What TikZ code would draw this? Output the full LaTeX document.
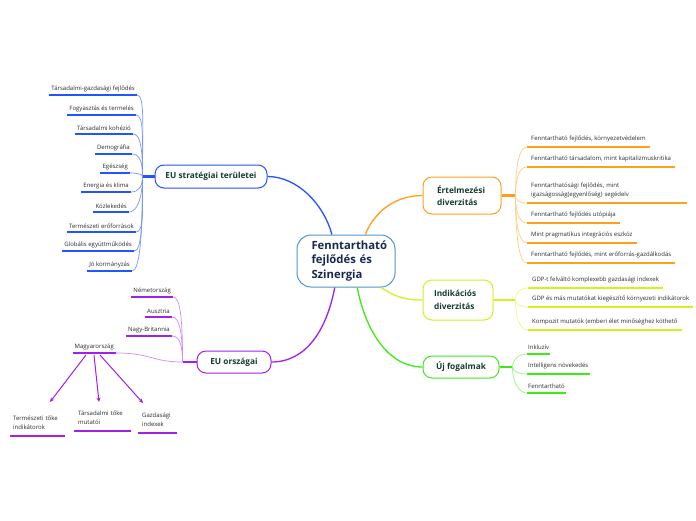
\documentclass[tikz,border=0pt]{standalone}
\usepackage{fontspec}
\setmainfont{Open Sans}
\usetikzlibrary{calc,arrows.meta}
\definecolor{cblue}{RGB}{36,84,255}
\definecolor{cbluel}{RGB}{120,150,255}
\definecolor{cpur}{RGB}{160,32,240}
\definecolor{cpurl}{RGB}{200,140,255}
\definecolor{cora}{RGB}{255,160,26}
\definecolor{coral}{RGB}{255,205,130}
\definecolor{cyel}{RGB}{214,240,30}
\definecolor{cyell}{RGB}{232,248,140}
\definecolor{cgrn}{RGB}{60,235,20}
\definecolor{cgrnl}{RGB}{150,245,130}
\definecolor{ccen}{RGB}{80,150,210}
\definecolor{tbranch}{RGB}{20,60,45}
\definecolor{tcen}{RGB}{25,40,80}
\definecolor{tleaf}{RGB}{45,45,45}
\newcommand\curveL[3]{\draw[#1] (#2) .. controls ($(#2)+(8,0)$) and ($(#3)!0.6!(#3|-#2)$) .. (#3);}
\newcommand\curveR[3]{\draw[#1] (#3) .. controls ($(#3)!0.6!(#3|-#2)$) and ($(#2)+(-8,0)$) .. (#2);}
\begin{document}
\begin{tikzpicture}[x=1pt,y=-1pt,
  lf/.style={font=\fontsize{6}{9}\selectfont, text=tleaf, inner ysep=3pt},
  leafR/.style={lf, anchor=south east, inner xsep=2pt},
  leafL/.style={lf, anchor=south west, inner xsep=4pt, inner ysep=4.5pt},
  botleaf/.style={lf, anchor=south west, align=left, inner xsep=3pt, inner ysep=6.5pt},
  branch/.style={draw, line width=1pt, rounded corners=9pt, fill=white, font=\bfseries\fontsize{8.3}{12.5}\selectfont, text=tbranch, align=left, inner sep=0pt},
  central/.style={draw=ccen, line width=1pt, rounded corners=14pt, fill=white, minimum width=98pt, minimum height=52pt, text width=69pt, align=left, inner sep=0pt, font=\bfseries\fontsize{11.3}{14.5}\selectfont, text=tcen},
  uline/.style={line width=1.6pt},
  conn/.style={line width=1.3pt},
  twig/.style={line width=0.7pt},
  hub/.style={line width=2.2pt},
  arr/.style={line width=1pt, cpur, -{Stealth[length=4.5pt,width=4pt]}},
]
\useasboundingbox (0,0) rectangle (696,520);
\fill[white] (0,0) rectangle (696,520);

% central and branch nodes
\node[central] (C) at (346,261) {Fenntartható\\fejlődés és\\Szinergia};
\node[branch, draw=cblue, minimum width=112pt, minimum height=23pt, align=center] (S) at (211,176.5) {EU stratégiai területei};
\node[branch, draw=cpur, minimum width=74pt, minimum height=22pt, align=center] (P) at (234,362) {EU országai};
\node[branch, draw=cora, minimum width=78pt, minimum height=37pt, text width=50pt] (O) at (462,195.5) {Értelmezési\\diverzitás};
\node[branch, draw=cyel, minimum width=70pt, minimum height=40pt, text width=48pt] (Y) at (458,300) {Indikációs\\diverzitás};
\node[branch, draw=cgrn, minimum width=76pt, minimum height=22pt, align=center] (G) at (461,367) {Új fogalmak};

% main connectors
\draw[conn,cblue] (C.118) .. controls +(-8,-30) and +(30,0) .. (S.east);
\draw[conn,cora] (C.54) .. controls +(8,-20) and +(-30,0) .. (O.west);
\draw[conn,cyel] (C.-37) .. controls +(12,8) and +(-20,0) .. (Y.west);
\draw[conn,cgrn] (C.-67) .. controls +(8,42) and +(-35,0) .. (G.west);
\draw[conn,cpur] (C.-113) .. controls +(-8,42) and +(35,0) .. (P.east);

% hubs
\coordinate (hB) at ($(S.west)+(-12,0)$);
\coordinate (hP) at ($(P.west)+(-14,0)$);
\coordinate (hO) at ($(O.east)+(14,0)$);
\coordinate (hY) at ($(Y.east)+(22,0)$);
\coordinate (hG) at ($(G.east)+(13,0)$);
\draw[hub,cblue] (hB) -- (S.west);
\draw[hub,cpur] (hP) -- (P.west);
\draw[hub,cora] (O.east) -- (hO);
\draw[hub,cyel] (Y.east) -- (hY);
\draw[hub,cgrn] (G.east) -- (hG);

% blue leaves
\node[leafR] (b1) at (137,95) {Társadalmi-gazdasági fejlődés};
\node[leafR] (b2) at (136,115) {Fogyasztás és termelés};
\node[leafR] (b3) at (133,134) {Társadalmi kohézió};
\node[leafR] (b4) at (132,154) {Demográfia};
\node[leafR] (b5) at (130,173) {Egészség};
\node[leafR] (b6) at (131,192) {Energia és klima};
\node[leafR] (b7) at (129,212) {Közlekedés};
\node[leafR] (b8) at (136,232) {Természeti erőforrások};
\node[leafR] (b9) at (134,251) {Globális együttműködés};
\node[leafR] (b10) at (132,271) {Jó kormányzás};
\foreach \n in {b1,b2,b3,b4,b5,b6,b7,b8,b9,b10}{
  \draw[uline,cblue] (\n.south west) -- (\n.south east);
  \curveL{twig,cbluel}{\n.south east}{hB}
}

% purple leaves
\node[leafR] (p1) at (173,297) {Németország};
\node[leafR] (p2) at (172,317) {Ausztria};
\node[leafR] (p3) at (172,336) {Nagy-Britannia};
\node[leafR] (mag) at (116,353) {Magyarország};
\foreach \n in {p1,p2,p3}{
  \draw[uline,cpur] (\n.south west) -- (\n.south east);
  \curveL{twig,cpurl}{\n.south east}{hP}
}
\draw[uline,cpur] (mag.south west) -- (mag.south east);
\draw[twig,cpurl] (mag.south east) .. controls +(35,0) and +(-30,0) .. (hP);

% Magyarország sub-items
\node[botleaf, text width=49pt] (T1) at (10,436) {Természeti tőke\\indikátorok};
\node[botleaf, text width=49pt, inner xsep=4pt, inner ysep=6pt] (T2) at (74,431) {Társadalmi tőke\\mutatói};
\node[botleaf, text width=31pt, inner xsep=4pt] (T3) at (138,433) {Gazdasági\\indexek};
\foreach \n in {T1,T2,T3}{
  \draw[uline,cpur] (\n.south west) -- (\n.south east);
}
\coordinate (a1) at ($(mag.south east)+(-30,2)$);
\coordinate (a2) at ($(mag.south east)+(-22,2)$);
\coordinate (a3) at ($(mag.south east)+(-16,2)$);
\coordinate (t1) at (50,402);
\coordinate (t2) at (99,402);
\coordinate (t3) at (143,403);
\draw[arr] (a1) -- (t1);
\draw[arr] (a2) -- (t2);
\draw[arr] (a3) -- (t3);

% orange leaves
\node[leafL] (o1) at (527,147) {Fenntartható fejlődés, környezetvédelem};
\node[leafL] (o2) at (527,167) {Fenntartható társadalom, mint kapitalizmuskritika};
\node[leafL, text width=152pt, align=left] (o3) at (527,203) {Fenntarthatósági fejlődés, mint\\igazságosság(egyenlőség) segédelv};
\node[leafL] (o4) at (527,223) {Fenntartható fejlődés utópiája};
\node[leafL] (o5) at (527,243) {Mint pragmatikus integrációs eszköz};
\node[leafL] (o6) at (527,263) {Fenntartható fejlődés, mint erőforrás-gazdálkodás};
\foreach \n in {o1,o2,o3,o4,o5,o6}{
  \draw[uline,cora] (\n.south west) -- (\n.south east);
  \curveR{twig,coral}{\n.south west}{hO}
}

% yellow leaves
\node[leafL] (y1) at (528,288) {GDP-t felváltó komplexebb gazdasági indexek};
\node[leafL] (y2) at (528,307) {GDP és más mutatókat kiegészítő környezeti indikátorok};
\node[leafL] (y3) at (528,330) {Kompozit mutatók (emberi élet minőséghez köthető};
\foreach \n in {y1,y2,y3}{
  \draw[uline,cyel] (\n.south west) -- (\n.south east);
  \curveR{twig,cyell}{\n.south west}{hY}
}

% green leaves
\node[leafL, inner xsep=1pt] (g1) at (527,354) {Inkluzív};
\node[leafL, inner xsep=1pt] (g2) at (527,374) {Intelligens növekedés};
\node[leafL, inner xsep=1pt] (g3) at (527,393) {Fenntartható};
\foreach \n in {g1,g2,g3}{
  \draw[uline,cgrn] (\n.south west) -- (\n.south east);
  \curveR{twig,cgrnl}{\n.south west}{hG}
}
\end{tikzpicture}
\end{document}
